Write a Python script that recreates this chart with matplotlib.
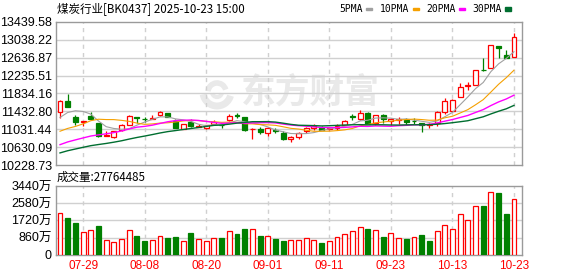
import matplotlib
matplotlib.use("Agg")
import matplotlib.pyplot as plt
from matplotlib.patches import Rectangle, Arc
import numpy as np
import pandas as pd

# ---------------- data ----------------
dates = ["07-24", "07-25", "07-28", "07-29", "07-30", "07-31", "08-01", "08-04", "08-05", "08-06",
         "08-07", "08-08", "08-11", "08-12", "08-13", "08-14", "08-15", "08-18", "08-19", "08-20",
         "08-21", "08-22", "08-25", "08-26", "08-27", "08-28", "08-29", "09-01", "09-02", "09-03",
         "09-04", "09-05", "09-08", "09-09", "09-10", "09-11", "09-12", "09-15", "09-16", "09-17",
         "09-18", "09-19", "09-22", "09-23", "09-24", "09-25", "09-26", "09-29", "09-30", "10-09",
         "10-10", "10-13", "10-14", "10-15", "10-16", "10-17", "10-20", "10-21", "10-22", "10-23"]

opens = [11417, 11656, 11315, 11194, 11321, 11172, 10882, 10860, 11016, 11136,
         11299, 11266, 11266, 11350, 11395, 11217, 11047, 11203, 11076, 11061,
         11159, 11132, 11248, 11350, 11299, 11032, 11038, 10958, 11009, 10954,
         10815, 10860, 10994, 11061, 11069, 11040, 11054, 11128, 11321, 11254,
         11404, 11165, 11344, 11217, 11232, 11239, 11221, 11165, 11136, 11165,
         11426, 11440, 11761, 12006, 12035, 12370, 12407, 12898, 12704, 12652]
highs = [11685, 11818, 11350, 11226, 11410, 11172, 10987, 10995, 11150, 11344,
         11310, 11314, 11350, 11433, 11395, 11254, 11150, 11254, 11159, 11140,
         11239, 11165, 11381, 11388, 11299, 11063, 11083, 11083, 11054, 10987,
         10875, 10980, 11092, 11159, 11105, 11080, 11143, 11240, 11381, 11462,
         11410, 11360, 11381, 11292, 11306, 11277, 11292, 11165, 11181, 11433,
         11738, 11700, 12073, 12095, 12360, 12630, 12915, 12905, 12815, 13187]
lows = [11292, 11522, 11136, 11098, 11240, 10869, 10882, 10831, 11005, 11136,
        11181, 11195, 11260, 11340, 11315, 11069, 11040, 11095, 11076, 11038,
        11143, 11060, 11217, 11284, 11005, 10817, 10936, 10882, 10949, 10786,
        10757, 10824, 10958, 11025, 11009, 11020, 11025, 11120, 11239, 11232,
        11143, 11136, 11181, 11128, 11143, 11121, 11159, 10980, 11069, 11105,
        11381, 11440, 11761, 11923, 12030, 12345, 12407, 12630, 12625, 12652]
closes = [11662, 11538, 11188, 11226, 11254, 10891, 10904, 10987, 11136, 11321,
          11283, 11254, 11283, 11417, 11315, 11069, 11143, 11105, 11105, 11136,
          11203, 11121, 11337, 11337, 11016, 11047, 10981, 11054, 10994, 10809,
          10860, 10958, 11069, 11105, 11025, 11060, 11105, 11226, 11306, 11404,
          11143, 11344, 11254, 11270, 11270, 11194, 11210, 11121, 11150, 11426,
          11662, 11694, 11984, 12020, 12354, 12350, 12911, 12853, 12630, 13098]

# volume in 万 (10k) shares
volumes = [2111, 1828, 1579, 1114, 1213, 1429, 715, 615, 765, 1213,
           931, 681, 715, 914, 831, 881, 665, 1080, 765, 665,
           814, 831, 1163, 1030, 1280, 1263, 931, 931, 781, 681,
           731, 715, 814, 715, 582, 665, 864, 1014, 1163, 1363,
           1280, 1213, 881, 1064, 814, 781, 864, 981, 681, 1163,
           1512, 1263, 2061, 1762, 2460, 2460, 3158, 3075, 2028, 2776.4485]
vol_up = [1, 0, 0, 1, 1, 0, 1, 1, 1, 1,
          0, 0, 1, 1, 0, 0, 1, 0, 1, 1,
          1, 0, 1, 0, 0, 1, 0, 1, 0, 0,
          1, 1, 1, 1, 0, 1, 1, 1, 1, 1,
          0, 1, 0, 1, 1, 0, 1, 0, 0, 1,
          1, 1, 1, 1, 1, 0, 1, 0, 0, 1]

# closes of the 29 sessions before the window (needed for the moving averages)
prior_closes = [10070, 10040, 10090, 10150, 10120, 10180, 10140, 10190, 10170, 10220,
                10310, 10280, 10350, 10400, 10380, 10420, 10450, 10400, 10430, 10480,
                10900, 10750, 10650, 10550, 10555, 10983, 10998, 11301, 11551]

tick_dates = ["07-29", "08-08", "08-20", "09-01", "09-11", "09-23", "10-13", "10-23"]
price_ticks = [10228.73, 10630.09, 11031.44, 11432.80, 11834.16,
               12235.51, 12636.87, 13038.22, 13439.58]
vol_ticks = [0, 860, 1720, 2580, 3440]
vol_tick_labels = ["0", "860万", "1720万", "2580万", "3440万"]
ma_windows = [5, 10, 20, 30]
ma_labels = ["5PMA", "10PMA", "20PMA", "30PMA"]
ma_colors = ["#a0a0a0", "#f5a000", "#ff00ff", "#006e30"]
title_text = "煤炭行业[BK0437] 2025-10-23 15:00"
vol_title = "成交量:27764485"
watermark = "东方财富"

# ---------------- styling ----------------
W, H = 578, 276
RED = "#ff0000"
GREEN = "#008000"
GRID = "#d0d0d0"
SPINE = "#9a9a9a"
WM = "#e9e9e9"
CJK = ["Noto Sans CJK SC", "DejaVu Sans"]
NUM = ["Liberation Sans", "Noto Sans CJK SC"]

fig = plt.figure(figsize=(W / 100, H / 100), dpi=100)
fig.patch.set_facecolor("white")


def fx(px):
    return px / W


def fy(py):
    return 1 - py / H


ax = fig.add_axes([fx(56), fy(165.3), fx(522) - fx(56), fy(21.7) - fy(165.3)])
axv = fig.add_axes([fx(56), fy(254.7), fx(522) - fx(56), fy(186) - fy(254.7)])

n = len(closes)
x = np.arange(n)
xlim = (-0.52, 60.04)

# ---- main price panel ----
ax.set_xlim(*xlim)
ax.set_ylim(price_ticks[0], price_ticks[-1])

o = np.array(opens, float)
c = np.array(closes, float)
hi = np.array(highs, float)
lo = np.array(lows, float)
up = c >= o
cols = [RED if u else GREEN for u in up]
faces = ["white" if u else GREEN for u in up]
bottoms = np.minimum(o, c)
heights = np.maximum(np.abs(c - o), 1.0)

ax.vlines(x, lo, hi, colors=cols, linewidth=0.9, zorder=3)
ax.bar(x, heights, bottom=bottoms, width=0.64, color=faces, edgecolor=cols,
       linewidth=0.9, zorder=4)

series = pd.Series(prior_closes + closes, dtype=float)
ma_lw = [0.8, 0.8, 1.0, 1.0]
for w, col, lw in zip(ma_windows, ma_colors, ma_lw):
    ma = series.rolling(w).mean().iloc[-n:].to_numpy()
    ax.plot(x, ma, color=col, linewidth=lw, zorder=5)

tick_pos = [dates.index(d) for d in tick_dates]
ax.set_yticks(price_ticks)
ax.set_yticklabels([f"{v:.2f}" for v in price_ticks], fontfamily=NUM, fontsize=9)
ax.set_xticks(tick_pos)
ax.tick_params(axis="x", length=0, labelbottom=False)
ax.tick_params(axis="y", length=0, pad=3, labelcolor="black")
for yv in price_ticks[1:-1]:
    ax.axhline(yv, color=GRID, linewidth=1.0, zorder=1)
for xp in tick_pos:
    ax.axvline(xp, color=GRID, linewidth=1.0, linestyle=(0, (3, 3)), zorder=1)

# watermark: swirl logo + text
ax.text(fx(310), fy(92), watermark, transform=fig.transFigure, fontfamily=CJK,
        fontsize=25, fontweight="bold", color=WM, ha="center", va="center", zorder=0)
for r, t1, t2, lw in [(14, 200, 330, 5.0), (9, 30, 170, 4.0), (5, 210, 330, 3.0)]:
    arc = Arc((fx(217), fy(92)), 2 * r / W, 2 * r / H, theta1=t1, theta2=t2,
              transform=fig.transFigure, color=WM, linewidth=lw, zorder=0)
    ax.add_artist(arc)

# ---- volume panel ----
axv.set_xlim(*xlim)
axv.set_ylim(vol_ticks[0], vol_ticks[-1])
vcols = [RED if u else GREEN for u in vol_up]
vfaces = ["white" if u else GREEN for u in vol_up]
axv.bar(x, volumes, width=0.64, color=vfaces, edgecolor=vcols, linewidth=0.9, zorder=3)
axv.set_yticks(vol_ticks)
axv.set_yticklabels(vol_tick_labels, fontfamily=NUM, fontsize=9)
axv.set_xticks(tick_pos)
axv.set_xticklabels(tick_dates, fontfamily=NUM, fontsize=8.5, color=RED)
axv.tick_params(axis="both", length=0)
axv.tick_params(axis="y", pad=3)
axv.tick_params(axis="x", pad=4)
for yv in vol_ticks[1:-1]:
    axv.axhline(yv, color=GRID, linewidth=1.0, zorder=1)
for xp in tick_pos:
    axv.axvline(xp, color=GRID, linewidth=1.0, linestyle=(0, (3, 3)), zorder=1)

for a in (ax, axv):
    for s in a.spines.values():
        s.set_color(SPINE)
        s.set_linewidth(1.0)

# ---- texts ----
fig.text(fx(57), fy(8.8), title_text, fontfamily=CJK, fontsize=8.3, ha="left", va="center")
fig.text(fx(57), fy(177.5), vol_title, fontfamily=CJK, fontsize=8.3, ha="left", va="center")

legend_x = [339, 380, 426, 472]
swatch_x = [366, 413, 459, 505]
for lab, lx, sx, col in zip(ma_labels, legend_x, swatch_x, ma_colors):
    fig.text(fx(lx), fy(9), lab, fontfamily=["DejaVu Sans Mono"], fontsize=7,
             ha="left", va="center")
    hgt = 4 if col == ma_colors[-1] else 2.5
    fig.patches.append(Rectangle((fx(sx), fy(9 + hgt / 2)), 5.5 / W, hgt / H,
                                 transform=fig.transFigure, color=col))

fig.savefig("out.png", dpi=100, facecolor="white")
